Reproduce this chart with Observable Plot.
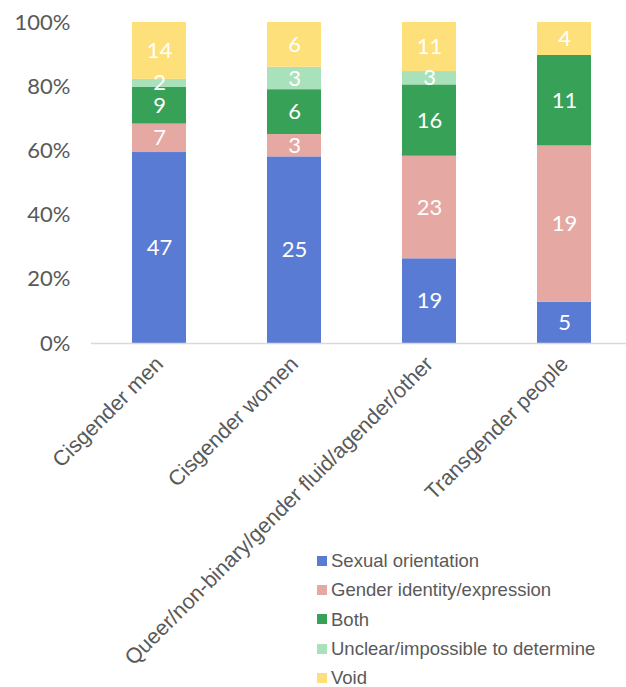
<!DOCTYPE html>
<html>
<head>
<meta charset="utf-8">
<script src="https://cdn.jsdelivr.net/npm/d3@7"></script>
<script src="https://cdn.jsdelivr.net/npm/@observablehq/plot@0.6"></script>
<style>
  body { margin: 0; background: #fff; }
  #wrap { position: relative; width: 626px; height: 687px; }
  #legend { position: absolute; left: 317px; top: 546px; font-family: "Liberation Sans", Arial, sans-serif; font-size: 18.5px; color: #595959; }
  #legend div { height: 29.3px; line-height: 29.3px; display: flex; align-items: center; white-space: nowrap; }
  #legend span.sw { display: inline-block; width: 10px; height: 10px; margin-right: 4px; }
</style>
</head>
<body>
<div id="wrap"><div id="chart"></div><div id="legend"></div></div>
<script>
const categories = ["Cisgender men", "Cisgender women", "Queer/non-binary/gender fluid/agender/other", "Transgender people"];
const seriesNames = ["Sexual orientation", "Gender identity/expression", "Both", "Unclear/impossible to determine", "Void"];
const sexualOrientation = [47, 25, 19, 5];
const genderIdentity = [7, 3, 23, 19];
const both = [9, 6, 16, 11];
const unclear = [2, 3, 3, 0];
const voidVals = [14, 6, 11, 4];
const colors = ["#5A7BD4", "#E6A8A3", "#36A157", "#A9E1BB", "#FDE07A"];
const yTicks = [0, 0.2, 0.4, 0.6, 0.8, 1];

const seriesValues = [sexualOrientation, genderIdentity, both, unclear, voidVals];
const data = [];
seriesNames.forEach((s, si) => {
  categories.forEach((c, ci) => {
    data.push({category: c, series: s, value: seriesValues[si][ci]});
  });
});

const numFont = "Lato, 'Open Sans', sans-serif";

const chart = Plot.plot({
  width: 626,
  height: 687,
  marginTop: 22,
  marginBottom: 344,
  marginLeft: 91,
  marginRight: 0,
  style: {fontFamily: "'Liberation Sans', Arial, sans-serif", background: "#fff", overflow: "visible"},
  x: {domain: categories, range: [91, 631], paddingInner: 0.6, paddingOuter: 0.3, label: null},
  y: {domain: [0, 1], label: null},
  color: {domain: seriesNames, range: colors},
  marks: [
    Plot.barY(data, Plot.stackY({offset: "normalize", order: seriesNames}, {x: "category", y: "value", z: "series", fill: "series"})),
    Plot.text(data.filter(d => d.value > 0), Plot.stackY({offset: "normalize", order: seriesNames}, {x: "category", y: "value", z: "series", text: d => String(d.value), fill: "#fff", fontSize: 22, fontFamily: numFont})),
    Plot.ruleY([0], {stroke: "#d9d9d9", strokeWidth: 1.5}),
    Plot.axisY({ticks: yTicks, tickFormat: d3.format(".0%"), tickSize: 0, tickPadding: 21, fontSize: 22, fill: "#595959", fontFamily: numFont, label: null}),
    Plot.axisX({tickSize: 0, tickPadding: 17, tickRotate: -45, fontSize: 21.5, fill: "#595959", label: null})
  ]
});
document.getElementById("chart").appendChild(chart);

const legend = document.getElementById("legend");
seriesNames.forEach((s, i) => {
  const row = document.createElement("div");
  const sw = document.createElement("span");
  sw.className = "sw";
  sw.style.background = colors[i];
  row.appendChild(sw);
  row.appendChild(document.createTextNode(s));
  legend.appendChild(row);
});
</script>
</body>
</html>
